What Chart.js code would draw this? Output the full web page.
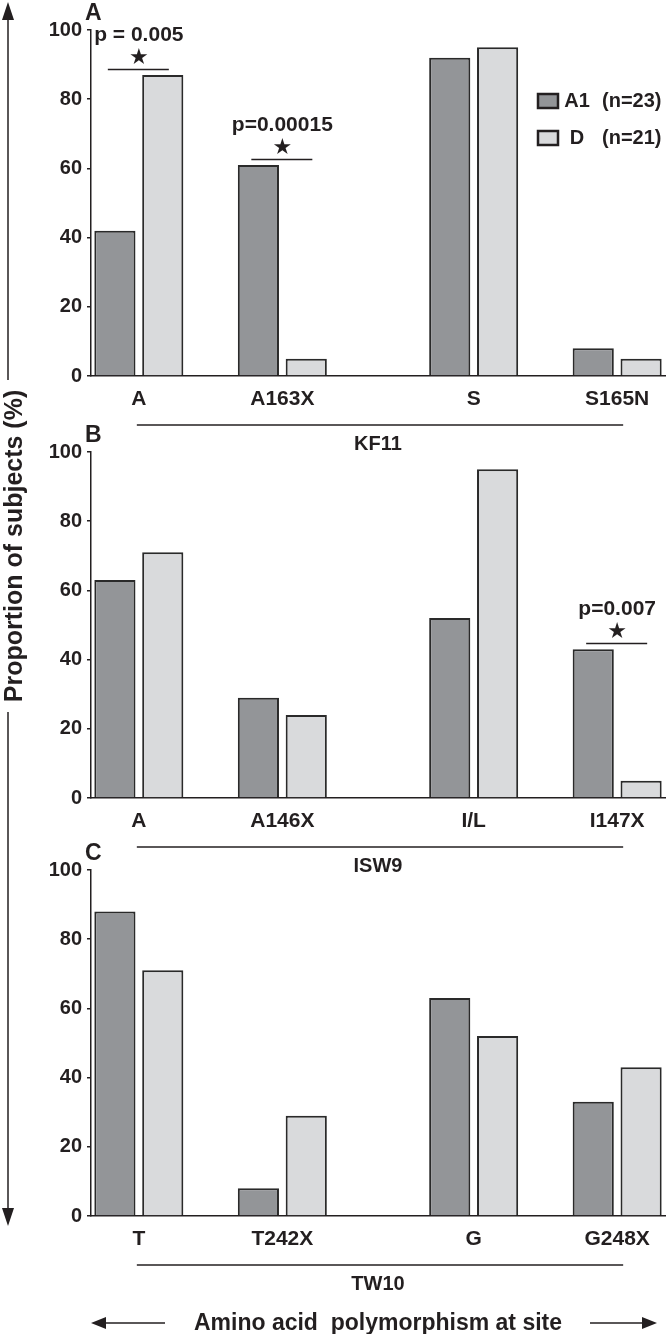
<!DOCTYPE html>
<html>
<head>
<meta charset="utf-8">
<script src="https://cdn.jsdelivr.net/npm/chart.js@4.4.1/dist/chart.umd.min.js"></script>
<style>
  body { margin: 0; background: #fff; }
  #wrap { position: relative; width: 667px; height: 1334px; overflow: hidden; }
  .panel { position: absolute; left: 0; width: 667px; height: 470px; }
  .label { position: absolute; font-family: 'Liberation Sans', Arial, sans-serif; font-weight: bold; color: #231f20; white-space: pre; }
  #ytitle { font-size: 25px; left: 13px; top: 546px; transform: translate(-50%, -50%) rotate(-90deg); }
  #xtitle { font-size: 23px; left: 378px; top: 1322px; transform: translate(-50%, -50%); }
  svg { position: absolute; left: 0; top: 0; }
</style>
</head>
<body>
<div id="wrap">
  <div class="panel" style="top:0px"><canvas id="chartA" width="667" height="470"></canvas></div>
  <div class="panel" style="top:420px"><canvas id="chartB" width="667" height="470"></canvas></div>
  <div class="panel" style="top:840px"><canvas id="chartC" width="667" height="470"></canvas></div>
  <svg width="667" height="1334">
    <g stroke="#231f20" stroke-width="1.5" fill="#231f20">
      <line x1="8" y1="18" x2="8" y2="380" />
      <polygon points="8,2 2,20 14,20" stroke="none" />
      <line x1="8" y1="712" x2="8" y2="1210" />
      <polygon points="8,1226 2,1208 14,1208" stroke="none" />
      <line x1="104" y1="1323" x2="165" y2="1323" />
      <polygon points="91,1323 106,1317 106,1329" stroke="none" />
      <line x1="590" y1="1323" x2="644" y2="1323" />
      <polygon points="657,1323 642,1317 642,1329" stroke="none" />
    </g>
  </svg>
  <div id="ytitle" class="label">Proportion of subjects (%)</div>
  <div id="xtitle" class="label">Amino acid  polymorphism at site</div>
</div>
<script>
  'use strict';

  // ---- data ----
  const groupsA = ['A', 'A163X', 'S', 'S165N'];
  const groupsB = ['A', 'A146X', 'I/L', 'I147X'];
  const groupsC = ['T', 'T242X', 'G', 'G248X'];
  const siteA = 'KF11';
  const siteB = 'ISW9';
  const siteC = 'TW10';

  const seriesNames = ['A1', 'D'];
  const seriesN = [23, 21];

  const a1A = [42, 61, 92, 8];
  const dA = [87, 5, 95, 5];
  const a1B = [63, 29, 52, 43];
  const dB = [71, 24, 95, 5];
  const a1C = [88, 8, 63, 33];
  const dC = [71, 29, 52, 43];

  const yTicks = [0, 20, 40, 60, 80, 100];

  // significance marks: which group, and its p value text
  const sigGroupsA = [0, 1];
  const sigTextA = ['p = 0.005', 'p=0.00015'];
  const sigGroupsB = [3];
  const sigTextB = ['p=0.007'];

  // ---- layout ----
  // x axis runs over 12 bar slots, groups sit at these slot boundaries
  const groupSlots = [1, 4, 8, 11];
  const ink = '#231f20';
  const fillA1 = '#939598';
  const fillD = '#d9dadc';
  const fontFamily = "'Liberation Sans', Arial, sans-serif";
  const canvasH = 470;
  const plotH = 346;

  Chart.defaults.font.family = fontFamily;
  Chart.defaults.font.weight = 'bold';
  Chart.defaults.color = ink;

  var line = function(ctx, x0, y0, x1, y1) {
    ctx.beginPath();
    ctx.moveTo(x0, y0);
    ctx.lineTo(x1, y1);
    ctx.stroke();
  };

  const panelExtras = {
    id: 'panelExtras',
    afterDraw(chart, args, opts) {
      const ctx = chart.ctx;
      const xs = chart.scales.x;
      const ys = chart.scales.y;
      const area = chart.chartArea;
      ctx.save();
      ctx.fillStyle = ink;
      ctx.strokeStyle = ink;
      ctx.lineWidth = 1.5;

      // panel letter
      ctx.font = 'bold 23px ' + fontFamily;
      ctx.textAlign = 'left';
      ctx.textBaseline = 'alphabetic';
      ctx.fillText(opts.letter, area.left - 6, area.top - 10);

      // site bracket under the axis
      const x0 = xs.getPixelForValue(groupSlots[0]);
      const x1 = xs.getPixelForValue(groupSlots[groupSlots.length - 1]);
      const base = ys.getPixelForValue(0);
      line(ctx, x0 - 2, base + 49, x1 + 6, base + 49);
      ctx.font = 'bold 20px ' + fontFamily;
      ctx.textAlign = 'center';
      ctx.fillText(opts.site, (x0 + x1) / 2, base + 74);

      // significance bars, stars and p values
      opts.sigGroups.forEach(function(g, i) {
        const top = Math.max.apply(null, chart.data.datasets.map(ds => ds.data[g].y));
        const ly = Math.round(ys.getPixelForValue(top) - 6) + 0.5;
        const cx = xs.getPixelForValue(groupSlots[g]);
        line(ctx, cx - 31, ly, cx + 30, ly);
        ctx.textBaseline = 'middle';
        ctx.font = '22px "DejaVu Sans"';
        ctx.fillText('\u2605', cx, ly - 11);
        ctx.font = 'bold 21px ' + fontFamily;
        ctx.fillText(opts.sigText[i], cx, ly - 34);
      });

      // legend
      if (opts.legend) {
        const lx = area.right - 127;
        chart.data.datasets.forEach(function(ds, i) {
          const cy = area.top + 71 + i * 37;
          ctx.fillStyle = ds.backgroundColor;
          ctx.fillRect(lx, cy - 7, 20, 14);
          ctx.lineWidth = 2.5;
          ctx.strokeRect(lx, cy - 7, 20, 14);
          ctx.fillStyle = ink;
          ctx.font = 'bold 20px ' + fontFamily;
          ctx.textBaseline = 'middle';
          ctx.textAlign = 'center';
          ctx.fillText(ds.label, lx + 39, cy);
          ctx.textAlign = 'left';
          ctx.fillText('(n=' + seriesN[i] + ')', lx + 64, cy);
        });
      }
      ctx.restore();
    }
  };

  var makeChart = function(id, groups, a1, d, site, letter, padTop, sigGroups, sigText, legend) {
    const toPoints = vals => vals.map((v, i) => ({ x: groupSlots[i], y: v }));
    const axisH = canvasH - padTop - plotH;
    return new Chart(document.getElementById(id), {
      type: 'bar',
      data: {
        datasets: [
          {
            label: seriesNames[0],
            data: toPoints(a1),
            backgroundColor: fillA1,
            borderColor: '#2a2a2a',
            borderWidth: 2,
            categoryPercentage: 0.667,
            barPercentage: 0.86
          },
          {
            label: seriesNames[1],
            data: toPoints(d),
            backgroundColor: fillD,
            borderColor: '#2a2a2a',
            borderWidth: 2,
            categoryPercentage: 0.667,
            barPercentage: 0.86
          }
        ]
      },
      options: {
        responsive: false,
        animation: false,
        layout: { padding: { top: padTop, right: 2, left: 0, bottom: 0 } },
        plugins: {
          legend: { display: false },
          tooltip: { enabled: false },
          panelExtras: {
            letter: letter,
            site: site,
            sigGroups: sigGroups,
            sigText: sigText,
            legend: legend
          }
        },
        scales: {
          x: {
            type: 'linear',
            min: 0,
            max: 12,
            offset: false,
            grid: { display: false, offset: false },
            border: { display: true, color: ink, width: 1.5 },
            ticks: {
              autoSkip: false,
              maxRotation: 0,
              padding: 3,
              color: ink,
              font: { size: 21, weight: 'bold' },
              callback: (v, i) => groups[i]
            },
            afterBuildTicks: function(scale) {
              scale.ticks = groupSlots.map(v => ({ value: v }));
            },
            afterFit: function(scale) {
              scale.height = axisH;
            }
          },
          y: {
            min: yTicks[0],
            max: yTicks[yTicks.length - 1],
            ticks: {
              stepSize: yTicks[1] - yTicks[0],
              padding: 5,
              color: ink,
              font: { size: 20, weight: 'bold' }
            },
            grid: {
              display: true,
              drawOnChartArea: false,
              drawTicks: true,
              tickLength: 4,
              color: ink,
              lineWidth: 1.5
            },
            border: { display: true, color: ink, width: 1.5 },
            afterFit: function(scale) {
              scale.width = 91;
            }
          }
        }
      },
      plugins: [panelExtras]
    });
  };

  makeChart('chartA', groupsA, a1A, dA, siteA, 'A', 30, sigGroupsA, sigTextA, true);
  makeChart('chartB', groupsB, a1B, dB, siteB, 'B', 32, sigGroupsB, sigTextB, false);
  makeChart('chartC', groupsC, a1C, dC, siteC, 'C', 30, [], [], false);
</script>
</body>
</html>
